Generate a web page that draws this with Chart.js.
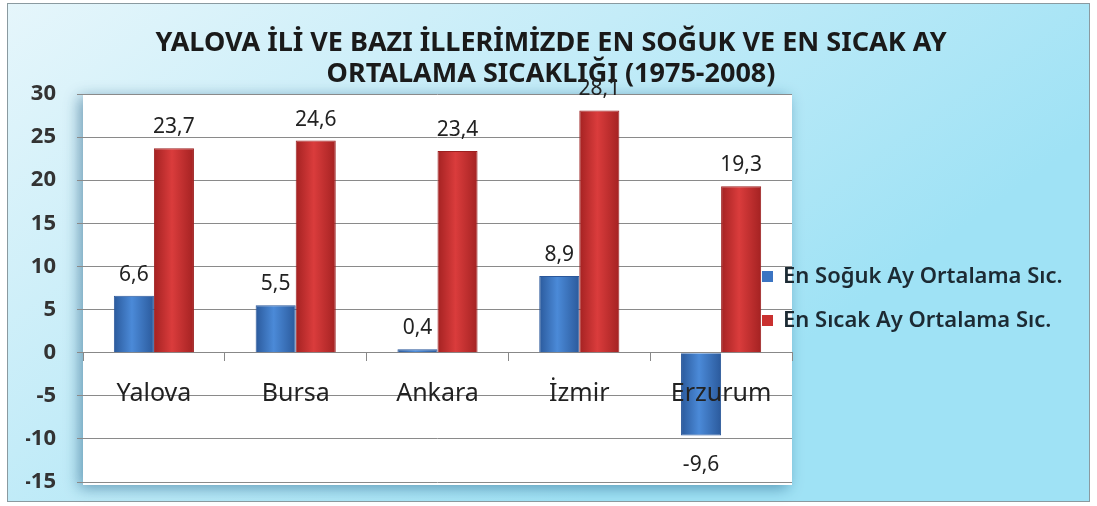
<!DOCTYPE html>
<html>
<head>
<meta charset="utf-8">
<script src="https://cdn.jsdelivr.net/npm/chart.js@4"></script>
<style>
  html, body { margin: 0; padding: 0; background: #fff; }
  #wrap { width: 1097px; height: 506px; }
</style>
</head>
<body>
<div id="wrap"><canvas id="myChart" width="1097" height="506"></canvas></div>
<script>
const cities = ['Yalova', 'Bursa', 'Ankara', 'İzmir', 'Erzurum'];
const coldMonth = [6.6, 5.5, 0.4, 8.9, -9.6];
const hotMonth = [23.7, 24.6, 23.4, 28.1, 19.3];
const seriesNames = ['En Soğuk Ay Ortalama Sıc.', 'En Sıcak Ay Ortalama Sıc.'];
const yTicks = [-15, -10, -5, 0, 5, 10, 15, 20, 25, 30];
const titleLines = ['YALOVA İLİ VE BAZI İLLERİMİZDE EN SOĞUK VE EN SICAK AY', 'ORTALAMA SICAKLIĞI (1975-2008)'];

const seriesColors = ['#3b74c2', '#c9302f'];
const shades = [
    ['#2b5a9c', '#4b8ad8', '#2b5a9c'],
    ['#a42222', '#da3c3c', '#a42222']
];

// çubuklara yatay gölge
function barFill(i) {
    return function (context) {
        const el = context.element;
        if (!el || !isFinite(el.x) || !isFinite(el.width)) return seriesColors[i];
        const g = context.chart.ctx.createLinearGradient(el.x - el.width / 2, 0, el.x + el.width / 2, 0);
        g.addColorStop(0, shades[i][0]);
        g.addColorStop(0.45, shades[i][1]);
        g.addColorStop(1, shades[i][2]);
        return g;
    };
}

// arka plan + başlık + beyaz çizim alanı
const backdrop = {
    id: 'backdrop',
    beforeDraw(chart) {
        const c = chart.ctx, a = chart.chartArea;
        const w = chart.width, h = chart.height;
        c.save();
        const g = c.createLinearGradient(0, 0, w * 0.4, h * 1.2);
        g.addColorStop(0, '#e6f6fb');
        g.addColorStop(0.5, '#c4ecf8');
        g.addColorStop(1, '#9fe2f5');
        c.fillStyle = g;
        c.fillRect(7, 3, w - 14, h - 7);
        c.strokeStyle = '#8a9aa0';
        c.lineWidth = 1;
        c.strokeRect(7.5, 3.5, w - 15, h - 8);

        c.fillStyle = '#1a1a1a';
        c.font = 'bold 27px "Noto Sans"';
        c.textAlign = 'center';
        c.textBaseline = 'middle';
        c.fillText(titleLines[0], 551, 43);
        c.fillText(titleLines[1], 551, 74);

        c.shadowColor = 'rgba(30,90,130,0.55)';
        c.shadowBlur = 14;
        c.shadowOffsetX = -4;
        c.shadowOffsetY = 3;
        c.fillStyle = '#ffffff';
        c.fillRect(a.left, a.top, a.right - a.left, a.bottom - a.top + 3);
        c.restore();
    }
};

// değer etiketleri ve lejant
const labelsAndLegend = {
    id: 'labelsAndLegend',
    afterDraw(chart) {
        const c = chart.ctx;
        c.save();
        c.font = '21px "Noto Sans"';
        c.fillStyle = '#222';
        c.textAlign = 'center';
        c.textBaseline = 'middle';
        chart.data.datasets.forEach((ds, i) => {
            chart.getDatasetMeta(i).data.forEach((bar, j) => {
                const v = ds.data[j];
                const txt = String(v).replace('.', ',');
                if (v >= 0) c.fillText(txt, bar.x, bar.y - 21);
                else c.fillText(txt, bar.x, bar.y + 30);
            });
        });
        // lejant
        c.textAlign = 'left';
        c.font = '600 22px "Noto Sans"';
        seriesNames.forEach((name, i) => {
            const y = 277 + i * 44;
            c.fillStyle = seriesColors[i];
            c.fillRect(762, y - 6, 11, 11);
            c.fillStyle = '#1c2a33';
            c.fillText(name, 783, y);
        });
        c.restore();
    }
};

const ctx = document.getElementById('myChart').getContext('2d');
const chart = new Chart(ctx, {
    type: 'bar',
    data: {
        labels: cities,
        datasets: [
            { label: seriesNames[0], data: coldMonth, backgroundColor: barFill(0), borderColor: '#2a579a', borderWidth: 1 },
            { label: seriesNames[1], data: hotMonth, backgroundColor: barFill(1), borderColor: '#9c2020', borderWidth: 1 }
        ]
    },
    options: {
        responsive: false,
        animation: false,
        layout: { padding: { top: 94, left: 26, right: 305, bottom: 24 } },
        datasets: { bar: { categoryPercentage: 0.565, barPercentage: 1 } },
        plugins: {
            legend: { display: false },
            tooltip: { enabled: false },
            title: { display: false }
        },
        scales: {
            x: {
                position: { y: 0 },
                afterFit(scale) { scale.height = 0; },
                grid: { drawOnChartArea: false, drawTicks: true, tickLength: 8, color: '#888' },
                border: { color: '#888' },
                ticks: { z: 1, color: '#222', padding: 18, font: { family: '"Noto Sans"', size: 25 } }
            },
            y: {
                min: -15,
                max: 30,
                afterBuildTicks(scale) { scale.ticks = yTicks.map(v => ({ value: v })); },
                afterFit(scale) {
                    scale.width = 57;
                    scale.paddingTop = 0;
                    scale.paddingBottom = 0;
                },
                grid: { color: '#8a8a8a', tickLength: 6 },
                border: { display: false },
                ticks: { color: '#333', padding: 21, font: { family: '"Noto Sans"', size: 22, weight: 'bold' } }
            }
        }
    },
    plugins: [backdrop, labelsAndLegend]
});
chart.update();
</script>
</body>
</html>
